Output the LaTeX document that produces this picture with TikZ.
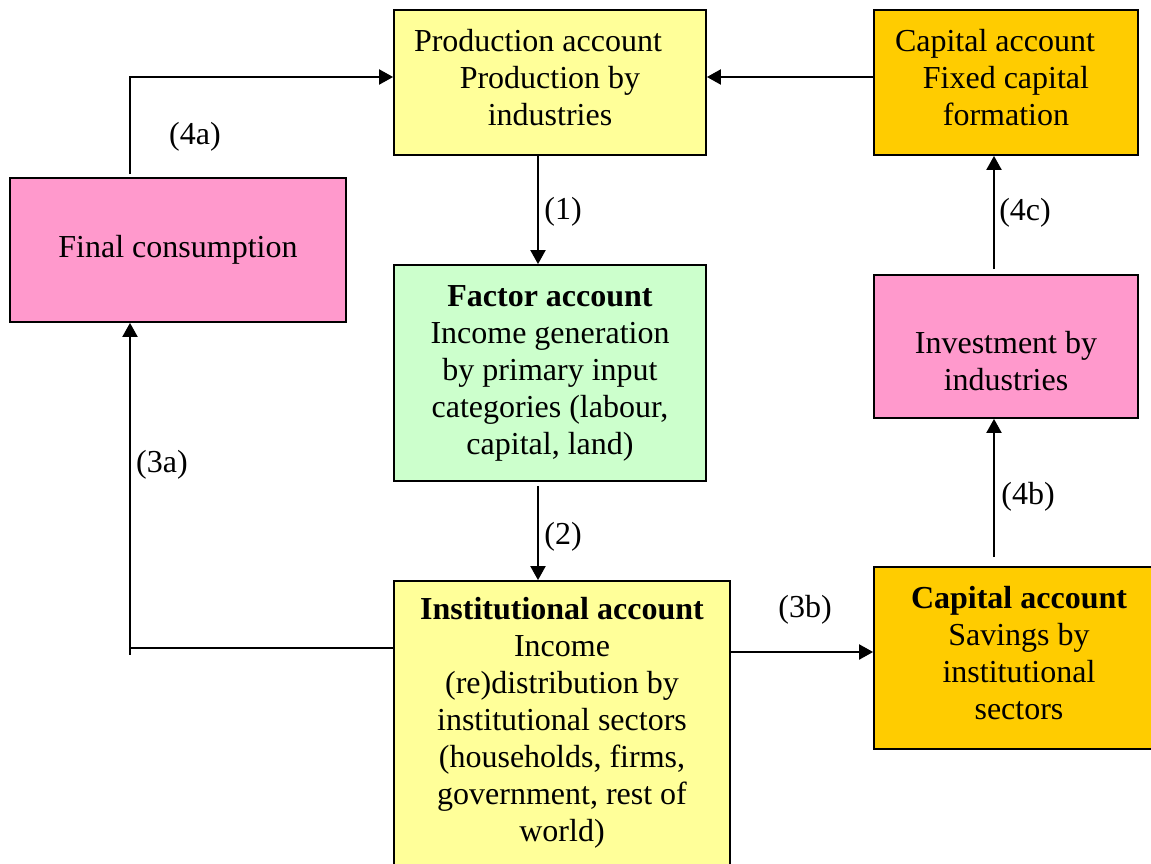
\documentclass[tikz,border=0pt]{standalone}
\usepackage{fontspec}
\setmainfont{Liberation Serif}
\usetikzlibrary{arrows.meta, positioning}

\definecolor{acyellow}{HTML}{FFFF99}
\definecolor{acorange}{HTML}{FFCC00}
\definecolor{acpink}{HTML}{FF99CC}
\definecolor{acgreen}{HTML}{CCFFCC}

\begin{document}
\begin{tikzpicture}[
  x=1pt, y=-1pt,
  box/.style={draw, line width=1.8pt, align=center, inner sep=2pt,
              font=\fontsize{32}{37}\selectfont},
  lab/.style={font=\fontsize{32}{37}\selectfont, inner sep=0pt},
  arr/.style={-{Triangle[length=14pt,width=15pt]}, line width=2pt},
  line/.style={line width=2pt}
]
  \useasboundingbox (0,0) rectangle (1151,864);
  \clip (0,0) rectangle (1151,864);

  % accounts
  \node[box, fill=acyellow, minimum width=312, minimum height=145,
        text depth=10pt]                                           (prod)   at (550, 82.5)
    {Production account\hspace*{24pt}\\ Production by\\ industries};
  \node[box, fill=acorange, minimum width=264, minimum height=145,
        text depth=10pt]                                           (capfix) at (1006, 82.5)
    {Capital account\hspace*{22pt}\\ Fixed capital\\ formation};
  \node[box, fill=acpink, minimum width=336, minimum height=144]   (final)  at (178, 250)
    {Final consumption};
  \node[box, fill=acgreen, minimum width=312, minimum height=216]  (factor) at (550, 373)
    {\textbf{Factor account}\\ Income generation\\ by primary input\\ categories (labour,\\ capital, land)};
  \node[box, fill=acpink, minimum width=264, minimum height=143,
        text height=87pt, text depth=0pt]                          (invest) at (1006, 346.5)
    {Investment by\\ industries};
  \node[box, fill=acyellow, minimum width=336, minimum height=284] (inst)   at (562, 723)
    {\textbf{Institutional account}\\ Income\\ (re)distribution by\\ institutional sectors\\ (households, firms,\\ government, rest of\\ world)};
  \node[box, fill=acorange, minimum width=290, minimum height=182,
        text depth=10pt]                                           (capsav) at (1019, 658)
    {\textbf{Capital account}\\ Savings by\\ institutional\\ sectors};

  % flow labels
  \node[lab] (l1)  at (563, 212) {(1)};
  \node[lab] (l2)  at (563, 537) {(2)};
  \node[lab] (l3a) at (162, 465) {(3a)};
  \node[lab] (l3b) at (805, 610) {(3b)};
  \node[lab] (l4a) at (195, 137) {(4a)};
  \node[lab] (l4b) at (1028, 497) {(4b)};
  \node[lab] (l4c) at (1025, 213) {(4c)};

  % flows
  \coordinate (c3a)  at (130, 648);
  \coordinate (tail) at (130, 655);
  \coordinate (c3b)  at ([yshift=6pt]capsav.west);
  \coordinate (c4b)  at (994, 557);

  \draw[arr] ([xshift=-12pt]prod.south) -- ([xshift=-12pt]factor.north);
  \draw[arr] ([xshift=-12pt,yshift=-4pt]factor.south) -- ([xshift=-24pt]inst.north);
  \draw[arr] (inst.west |- c3a) -- (c3a) -- (final.south -| c3a);
  \draw[line] (c3a) -- (tail);
  \draw[arr] (inst.east |- c3b) -- (c3b);
  \draw[arr] ([xshift=-48pt,yshift=3pt]final.north) |- ([yshift=5.5pt]prod.west);
  \draw[arr] ([yshift=5.5pt]capfix.west) -- ([yshift=5.5pt]prod.east);
  \draw[arr] (c4b) -- (c4b |- invest.south);
  \draw[arr] ([xshift=-12pt,yshift=5pt]invest.north) -- ([xshift=-12pt]capfix.south);
\end{tikzpicture}
\end{document}
